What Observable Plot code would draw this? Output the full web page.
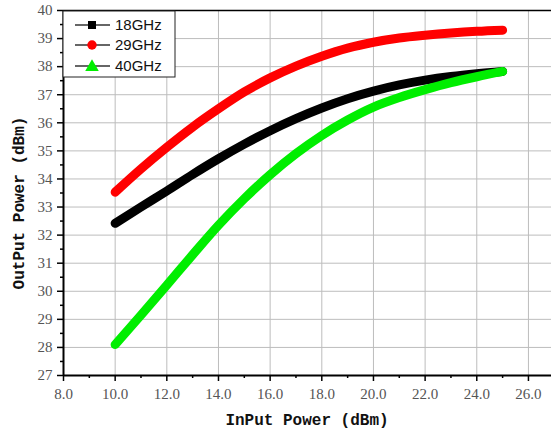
<!DOCTYPE html>
<html>
<head>
<meta charset="utf-8">
<script src="https://cdn.jsdelivr.net/npm/d3@7"></script>
<script src="https://cdn.jsdelivr.net/npm/@observablehq/plot@0.6"></script>
<style>
  html, body { margin: 0; padding: 0; background: #fff; }
  svg { display: block; }
</style>
</head>
<body>
<div id="chart"></div>
<script>
// ---- data ----
const inputPower = [10, 11, 12, 13, 14, 15, 16, 17, 18, 19, 20, 21, 22, 23, 24, 25];
const out18GHz = [32.42, 33.0, 33.57, 34.16, 34.72, 35.24, 35.72, 36.15, 36.53, 36.86, 37.13, 37.35, 37.52, 37.65, 37.75, 37.83];
const out29GHz = [33.53, 34.36, 35.13, 35.85, 36.5, 37.1, 37.6, 38.02, 38.37, 38.66, 38.87, 39.02, 39.12, 39.2, 39.26, 39.3];
const out40GHz = [28.1, 29.15, 30.22, 31.3, 32.35, 33.3, 34.15, 34.9, 35.55, 36.1, 36.56, 36.9, 37.18, 37.43, 37.64, 37.83];
const seriesNames = ["18GHz", "29GHz", "40GHz"];
const seriesColors = ["#000000", "#ff0000", "#00ee00"];
const xTicks = [8, 10, 12, 14, 16, 18, 20, 22, 24, 26];
const xMinorTicks = [9, 11, 13, 15, 17, 19, 21, 23, 25];
const yTicks = [27, 28, 29, 30, 31, 32, 33, 34, 35, 36, 37, 38, 39, 40];
const yMinorTicks = yTicks.slice(0, -1).map(v => v + 0.5);
const xLabel = "InPut Power (dBm)";
const yLabel = "OutPut Power (dBm)";

const seriesValues = [out18GHz, out29GHz, out40GHz];
const rows = [];
seriesNames.forEach((name, i) => {
  inputPower.forEach((x, j) => rows.push({series: name, x, y: seriesValues[i][j]}));
});

const W = 551, H = 437;
const mL = 63, mT = 10, mB = 62, mR = 0;
const xMax = 8 + (W - mL) / 25.83;

const tickFont = "'Liberation Serif', 'DejaVu Serif', serif";

const chart = Plot.plot({
  width: W, height: H,
  marginLeft: mL, marginTop: mT, marginBottom: mB, marginRight: mR,
  style: {background: "#fff", color: "#000"},
  x: {domain: [8, xMax]},
  y: {domain: [27, 40]},
  color: {domain: seriesNames, range: seriesColors},
  marks: [
    Plot.gridX(xTicks.filter(d => d > 8), {stroke: "#bdbdbd", strokeOpacity: 1, strokeWidth: 1}),
    Plot.gridY(yTicks.filter(d => d > 27 && d < 40), {stroke: "#bdbdbd", strokeOpacity: 1, strokeWidth: 1}),
    Plot.line(rows, {x: "x", y: "y", z: "series", stroke: "series", strokeWidth: 9, curve: "monotone-x", strokeLinecap: "round"}),
    // axes
    Plot.axisX({ticks: xTicks, tickSize: 6, tickPadding: 7, tickFormat: d => d.toFixed(1), fontSize: 15, fontFamily: tickFont, label: null, strokeWidth: 1.5}),
    Plot.axisX({ticks: xMinorTicks, tickSize: 3, tickFormat: () => "", label: null, strokeWidth: 1.5}),
    Plot.axisY({ticks: yTicks, tickSize: 6, tickPadding: 5, fontSize: 15, fontFamily: tickFont, label: null, strokeWidth: 1.5}),
    Plot.axisY({ticks: yMinorTicks, tickSize: 3, tickFormat: () => "", label: null, strokeWidth: 1.5}),
    Plot.ruleX([8], {stroke: "#000", strokeWidth: 2}),
    Plot.ruleY([27], {stroke: "#000", strokeWidth: 2}),
    Plot.ruleY([40], {stroke: "#000", strokeWidth: 1.5})
  ]
});

const svg = d3.select(chart);
svg.selectAll("[aria-label='x-axis tick label'] text, [aria-label='y-axis tick label'] text").attr("fill", "#555");

// axis titles
svg.append("text")
  .attr("x", (mL + W - mR) / 2)
  .attr("y", 425)
  .attr("text-anchor", "middle")
  .attr("font-family", "'Liberation Mono', 'DejaVu Sans Mono', monospace")
  .attr("font-weight", "bold")
  .attr("font-size", 16)
  .attr("fill", "#111")
  .text(xLabel);
svg.append("text")
  .attr("transform", `translate(24,203) rotate(-90)`)
  .attr("text-anchor", "middle")
  .attr("font-family", "'Liberation Mono', 'DejaVu Sans Mono', monospace")
  .attr("font-weight", "bold")
  .attr("font-size", 16)
  .attr("fill", "#111")
  .text(yLabel);

// legend
const lg = svg.append("g").attr("aria-label", "legend");
lg.append("rect").attr("x", mL).attr("y", 11).attr("width", 112).attr("height", 66)
  .attr("fill", "#fff").attr("stroke", "#222").attr("stroke-width", 1);
const rowY = [25, 45, 66];
const symTypes = [d3.symbolSquare, d3.symbolCircle, d3.symbolTriangle];
const symSize = [64, 70, 80];
seriesNames.forEach((name, i) => {
  const g = lg.append("g").attr("transform", `translate(0,${rowY[i]})`);
  g.append("line").attr("x1", 75).attr("x2", 110).attr("y1", 0).attr("y2", 0)
    .attr("stroke", "#333").attr("stroke-width", 1.5);
  g.append("path").attr("transform", `translate(92,${i === 2 ? 1 : 0})`)
    .attr("d", d3.symbol(symTypes[i], symSize[i])())
    .attr("fill", seriesColors[i]);
  g.append("text").attr("x", 115).attr("y", 0).attr("dy", "0.36em")
    .attr("text-anchor", "start")
    .attr("font-family", "'Liberation Sans', Arial, sans-serif")
    .attr("font-size", 15).attr("fill", "#111")
    .text(name);
});

document.getElementById("chart").appendChild(chart);
</script>
</body>
</html>
